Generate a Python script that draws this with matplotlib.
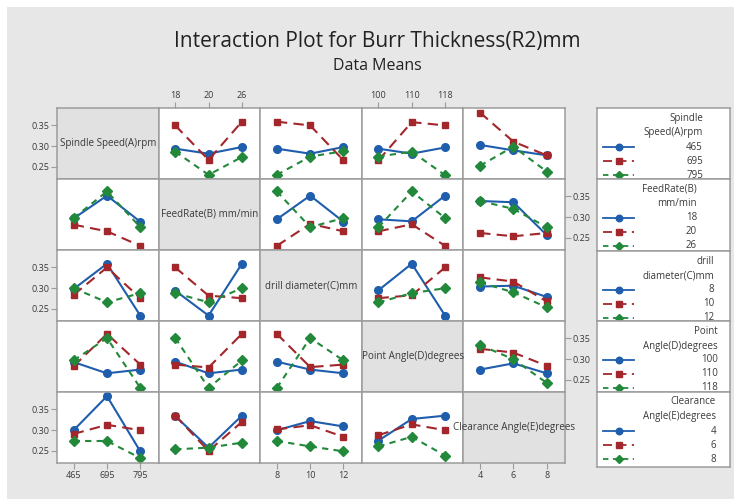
import matplotlib
matplotlib.use("Agg")
import matplotlib.pyplot as plt
from matplotlib.patches import Rectangle
from matplotlib.lines import Line2D

plt.rcParams['font.family'] = ['Open Sans', 'DejaVu Sans']

factors = ['Spindle Speed(A)rpm', 'FeedRate(B) mm/min', 'drill diameter(C)mm',
           'Point Angle(D)degrees', 'Clearance Angle(E)degrees']
legend_titles = [['Spindle', 'Speed(A)rpm'], ['FeedRate(B)', 'mm/min'],
                 ['drill', 'diameter(C)mm'], ['Point', 'Angle(D)degrees'],
                 ['Clearance', 'Angle(E)degrees']]
levels = [['465', '695', '795'], ['18', '20', '26'], ['8', '10', '12'],
          ['100', '110', '118'], ['4', '6', '8']]
yticks = [0.25, 0.30, 0.35]

# means[row factor][column factor]: one list per level of the row factor,
# values over the levels of the column factor
means_AB = [[0.294, 0.282, 0.298], [0.350, 0.267, 0.359], [0.287, 0.231, 0.274]]
means_AC = [[0.294, 0.282, 0.298], [0.359, 0.350, 0.266], [0.231, 0.275, 0.288]]
means_AD = [[0.294, 0.282, 0.297], [0.266, 0.358, 0.350], [0.275, 0.287, 0.230]]
means_AE = [[0.303, 0.290, 0.278], [0.381, 0.311, 0.278], [0.253, 0.299, 0.239]]
means_BA = [[0.297, 0.352, 0.289], [0.282, 0.266, 0.231], [0.298, 0.362, 0.276]]
means_BC = [[0.295, 0.352, 0.289], [0.231, 0.284, 0.266], [0.362, 0.276, 0.298]]
means_BD = [[0.295, 0.290, 0.352], [0.266, 0.283, 0.231], [0.276, 0.362, 0.298]]
means_BE = [[0.339, 0.336, 0.257], [0.262, 0.254, 0.262], [0.339, 0.320, 0.276]]
means_CA = [[0.298, 0.359, 0.234], [0.284, 0.350, 0.276], [0.300, 0.266, 0.288]]
means_CB = [[0.294, 0.234, 0.359], [0.350, 0.282, 0.276], [0.288, 0.266, 0.300]]
means_CD = [[0.295, 0.359, 0.234], [0.276, 0.283, 0.350], [0.266, 0.288, 0.300]]
means_CE = [[0.304, 0.306, 0.279], [0.326, 0.316, 0.268], [0.314, 0.290, 0.254]]
means_DA = [[0.293, 0.266, 0.275], [0.283, 0.361, 0.287], [0.297, 0.351, 0.231]]
means_DB = [[0.294, 0.266, 0.275], [0.287, 0.280, 0.361], [0.351, 0.231, 0.297]]
means_DC = [[0.294, 0.275, 0.266], [0.361, 0.281, 0.287], [0.231, 0.351, 0.297]]
means_DE = [[0.275, 0.290, 0.266], [0.325, 0.316, 0.284], [0.334, 0.300, 0.243]]
means_EA = [[0.300, 0.382, 0.249], [0.291, 0.313, 0.300], [0.274, 0.274, 0.233]]
means_EB = [[0.334, 0.258, 0.335], [0.335, 0.250, 0.320], [0.254, 0.258, 0.270]]
means_EC = [[0.300, 0.322, 0.309], [0.302, 0.312, 0.284], [0.274, 0.261, 0.249]]
means_ED = [[0.275, 0.327, 0.335], [0.288, 0.314, 0.300], [0.261, 0.284, 0.239]]

means = {
    (0, 1): means_AB, (0, 2): means_AC, (0, 3): means_AD, (0, 4): means_AE,
    (1, 0): means_BA, (1, 2): means_BC, (1, 3): means_BD, (1, 4): means_BE,
    (2, 0): means_CA, (2, 1): means_CB, (2, 3): means_CD, (2, 4): means_CE,
    (3, 0): means_DA, (3, 1): means_DB, (3, 2): means_DC, (3, 4): means_DE,
    (4, 0): means_EA, (4, 1): means_EB, (4, 2): means_EC, (4, 3): means_ED,
}

colors = ['#1f5ead', '#a3262b', '#22893b']
markers = ['o', 's', 'D']
msizes = [5.5, 5, 4.8]
dashes = [None, (5, 3), (3, 2.5)]
edge = '#9c9c9c'
txt = '#3a3a3a'

W, H = 734, 499
fig = plt.figure(figsize=(W / 100, H / 100), dpi=100, facecolor='white')
fig.patches.append(Rectangle((7 / W, 0), 1, 1 - 7 / H, transform=fig.transFigure,
                             facecolor='#e7e7e7', edgecolor='none', zorder=-10))


def fx(px):
    return px / W


def fy(py):
    return 1 - py / H


x0, y0, cw, rh = 57, 108, 101.6, 71

fig.text(fx(377), fy(42), 'Interaction Plot for Burr Thickness(R2)mm', ha='center',
         va='center', fontsize=15, color='#222222')
fig.text(fx(377), fy(66), 'Data Means', ha='center', va='center', fontsize=11.5,
         color='#222222')

for i in range(5):
    for j in range(5):
        ax = fig.add_axes([fx(x0 + j * cw), fy(y0 + (i + 1) * rh), cw / W, rh / H])
        ax.set_xlim(-0.5, 2.55)
        ax.set_ylim(0.221, 0.392)
        for s in ax.spines.values():
            s.set_color(edge)
            s.set_linewidth(1.1)
        ax.set_xticks([0, 1, 2])
        ax.set_xticklabels(levels[j])
        ax.set_yticks(yticks)
        ax.set_yticklabels(['%.2f' % v for v in yticks])
        ax.tick_params(colors=edge, labelcolor=txt, labelsize=6.5, length=4,
                       width=0.8, pad=1.5,
                       bottom=(i == 4 and j % 2 == 0), labelbottom=(i == 4 and j % 2 == 0),
                       top=(i == 0 and j % 2 == 1), labeltop=(i == 0 and j % 2 == 1),
                       left=(j == 0 and i % 2 == 0), labelleft=(j == 0 and i % 2 == 0),
                       right=(j == 4 and i % 2 == 1), labelright=(j == 4 and i % 2 == 1))
        if i == j:
            ax.set_facecolor('#e1e1e1')
            continue
        ax.set_facecolor('white')
        for k in range(3):
            ln, = ax.plot([0, 1, 2], means[(i, j)][k], color=colors[k],
                          marker=markers[k], markersize=msizes[k], linewidth=1.5,
                          clip_on=False)
            if dashes[k]:
                ln.set_dashes(dashes[k])

# labels on the diagonal, drawn above the neighbouring cells
for i in range(5):
    fig.text(fx(x0 + (i + 0.5) * cw), fy(y0 + (i + 0.5) * rh), factors[i],
             ha='center', va='center', fontsize=7.1, color=txt, zorder=5)

# legend boxes on the right
box_tops = [108, 179, 251, 321, 392, 467]
label_right = [106, 100, 117, 121, 119]
lx0, lw = 597, 133
for i in range(5):
    top, bot = box_tops[i], box_tops[i + 1]
    lax = fig.add_axes([fx(lx0), fy(bot), lw / W, (bot - top) / H])
    lax.set_xlim(0, lw)
    lax.set_ylim(bot - top, 0)
    lax.set_xticks([])
    lax.set_yticks([])
    lax.set_facecolor('white')
    for s in lax.spines.values():
        s.set_color(edge)
        s.set_linewidth(1.1)
    lax.text(label_right[i], 10, legend_titles[i][0], ha='right', va='center',
             fontsize=7, color=txt)
    lax.text(label_right[i], 25, legend_titles[i][1], ha='right', va='center',
             fontsize=7, color=txt)
    for k in range(3):
        yy = 39 + 14 * k
        ln = Line2D([6, 37], [yy, yy], color=colors[k], linewidth=1.3)
        if dashes[k]:
            ln.set_dashes(dashes[k])
        lax.add_line(ln)
        lax.plot([21.5], [yy], marker=markers[k], color=colors[k],
                 markersize=msizes[k] - 0.8, clip_on=True)
        lax.text(label_right[i], yy, levels[i][k], ha='right', va='center',
                 fontsize=7, color=txt, clip_on=True)

fig.savefig('out.png', dpi=100, facecolor=fig.get_facecolor())
